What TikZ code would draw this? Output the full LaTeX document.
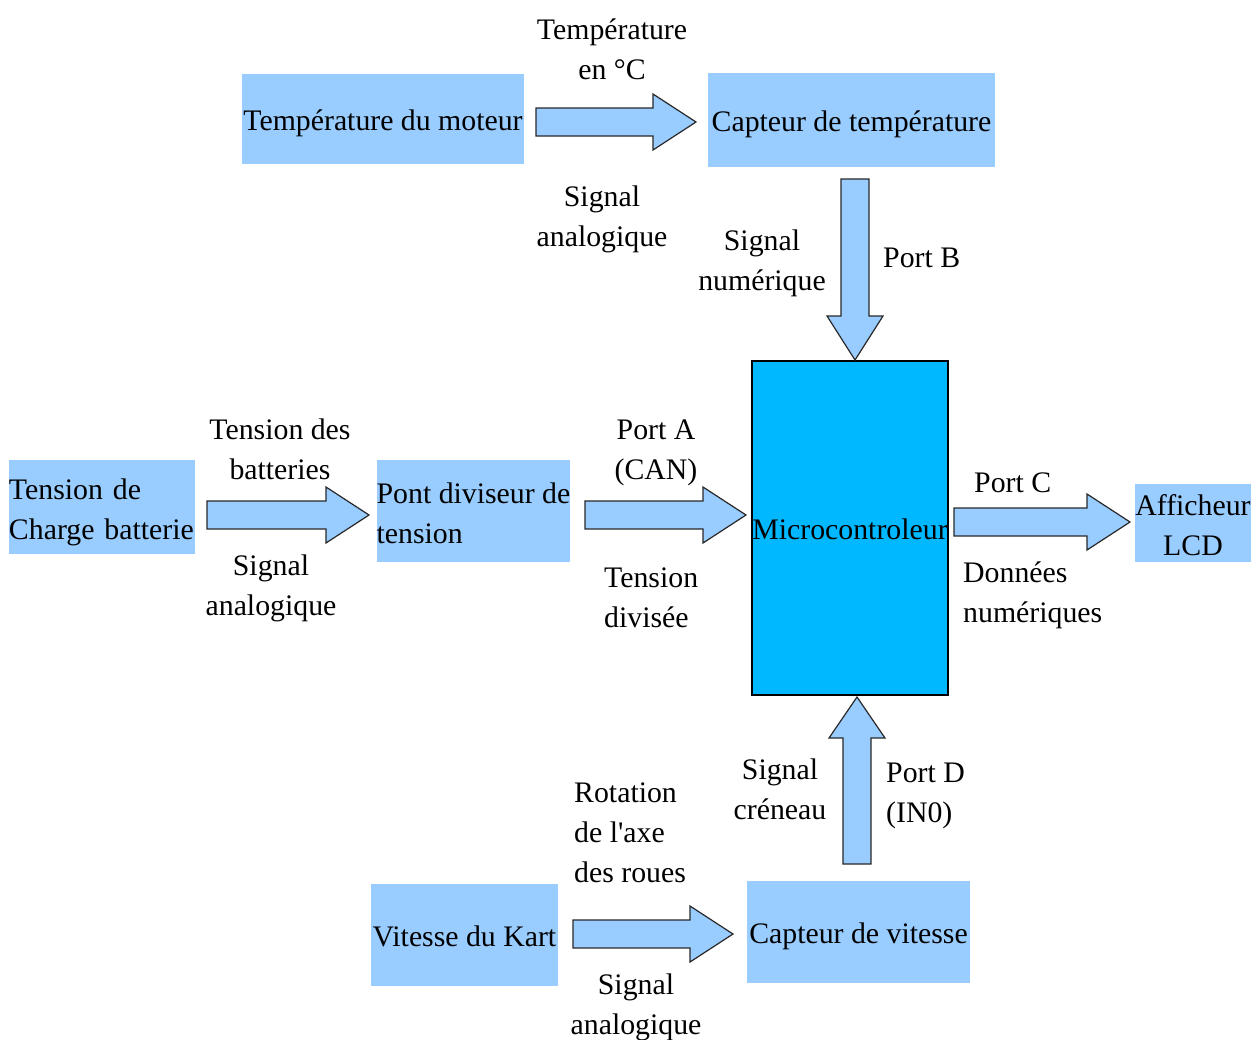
\documentclass[tikz,border=0pt]{standalone}
\usepackage{fontspec}
\setmainfont{Liberation Serif}
\definecolor{boxblue}{RGB}{153,204,255}
\definecolor{mcublue}{RGB}{0,184,255}
\definecolor{arrgray}{RGB}{40,40,40}
\newcommand\apos{\XeTeXglyph\XeTeXcharglyph"0027\relax}
% right-pointing block arrow: x1, x2 (tip), y
\newcommand\arrR[3]{\draw[barrow] (#1,#3-14) -- (#2-43,#3-14) -- (#2-43,#3-28) -- (#2,#3) -- (#2-43,#3+28) -- (#2-43,#3+14) -- (#1,#3+14) -- cycle;}
% down-pointing block arrow: x, y1 (tail), y2 (tip)
\newcommand\arrD[3]{\draw[barrow] (#1-14,#2) -- (#1-14,#3-44) -- (#1-28,#3-44) -- (#1,#3) -- (#1+28,#3-44) -- (#1+14,#3-44) -- (#1+14,#2) -- cycle;}
% up-pointing block arrow: x, y1 (tail), y2 (tip)
\newcommand\arrU[3]{\draw[barrow] (#1-14,#2) -- (#1-14,#3+41) -- (#1-28,#3+41) -- (#1,#3) -- (#1+28,#3+41) -- (#1+14,#3+41) -- (#1+14,#2) -- cycle;}
\tikzset{
  txt/.style={font=\fontsize{29.8}{40}\selectfont, inner sep=0pt},
  box/.style={txt, fill=boxblue, text height=23pt, text depth=0pt},
  box2/.style={txt, fill=boxblue, text height=64pt, text depth=0pt},
  barrow/.style={fill=boxblue, draw=arrgray, line width=1.2pt, line join=miter},
}
\begin{document}
\begin{tikzpicture}[x=1pt,y=-1pt]
\useasboundingbox (0,0) rectangle (1260,1039);
% boxes
\node[box, minimum width=282, minimum height=90] (b1) at (383,119) {Température du moteur};
\node[box, minimum width=287, minimum height=94] (b2) at (851.5,120) {Capteur de température};
\node[txt, fill=boxblue, text height=24pt, text depth=40pt, minimum width=186, minimum height=94, text width=186, align=left] (b3) at (102,507) {Tension de\\Charge batterie};
\node[box2, minimum width=193, minimum height=102, align=left] (b4) at (473.5,511) {Pont diviseur de\\tension};
\node[txt, fill=mcublue, draw=black, line width=1.3pt, minimum width=196, minimum height=334, text height=22pt, text depth=0pt] (mcu) at (850,528) {Microcontroleur};
\node[box2, minimum width=112, minimum height=78, align=center] (b5) at (1193,523) {Afficheur\\LCD};
\node[box, minimum width=187, minimum height=102] (b6) at (464.5,935) {Vitesse du Kart};
\node[box, minimum width=223, minimum height=102] (b7) at (858.5,932) {Capteur de vitesse};
% block arrows
\arrR{536}{696}{122}
\arrD{855}{179}{360}
\arrR{207}{369}{515}
\arrR{585}{746}{515}
\arrR{954}{1130}{522}
\arrU{857}{864}{697}
\arrR{573}{733}{934}
% labels (base anchor = baseline of last line)
\node[txt, align=center, anchor=base] (l1) at (612,79) {Température\\en °C};
\node[txt, align=center, anchor=base] (l2) at (602,246) {Signal\\analogique};
\node[txt, align=center, anchor=base] (l3) at (762,290) {Signal\\numérique};
\node[txt, anchor=base west] (l4) at (883,267) {Port B};
\node[txt, align=center, anchor=base] (l5) at (280,479) {Tension des\\batteries};
\node[txt, align=center, anchor=base] (l6) at (271,615) {Signal\\analogique};
\node[txt, align=center, anchor=base] (l7) at (656,479) {Port A\\(CAN)};
\node[txt, align=left, anchor=base west] (l8) at (604,627) {Tension\\divisée};
\node[txt, anchor=base west] (l9) at (974,492) {Port C};
\node[txt, align=left, anchor=base west] (l10) at (963,622) {Données\\numériques};
\node[txt, align=center, anchor=base] (l11) at (780,819) {Signal\\créneau};
\node[txt, align=left, anchor=base west] (l12) at (886,822) {Port D\\(IN0)};
\node[txt, align=left, anchor=base west] (l13) at (574,882) {Rotation\\de l\apos axe\\des roues};
\node[txt, align=center, anchor=base] (l14) at (636,1034) {Signal\\analogique};
\end{tikzpicture}
\end{document}
